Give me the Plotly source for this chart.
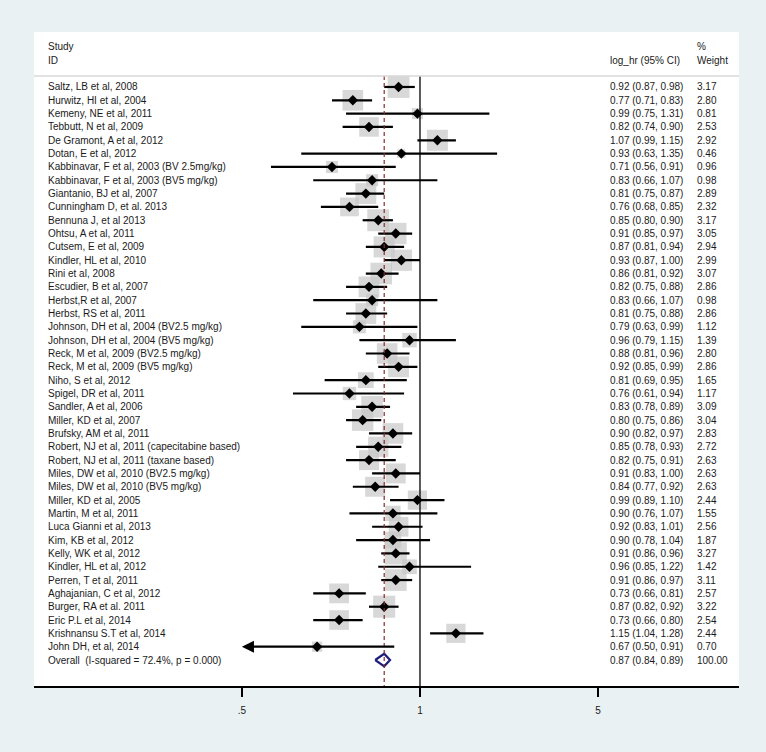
import numpy as np
import plotly.graph_objects as go

studies = [
    "Saltz, LB et al, 2008", "Hurwitz, HI et al, 2004", "Kemeny, NE et al, 2011",
    "Tebbutt, N et al, 2009", "De Gramont, A et al, 2012", "Dotan, E et al, 2012",
    "Kabbinavar, F et al, 2003 (BV 2.5mg/kg)", "Kabbinavar, F et al, 2003 (BV5 mg/kg)",
    "Giantanio, BJ et al, 2007", "Cunningham D, et al. 2013", "Bennuna J, et al 2013",
    "Ohtsu, A et al, 2011", "Cutsem, E et al, 2009", "Kindler, HL et al, 2010",
    "Rini et al, 2008", "Escudier, B et al, 2007", "Herbst,R et al, 2007",
    "Herbst, RS et al, 2011", "Johnson, DH et al, 2004 (BV2.5 mg/kg)",
    "Johnson, DH et al, 2004 (BV5 mg/kg)", "Reck, M et al, 2009 (BV2.5 mg/kg)",
    "Reck, M et al, 2009 (BV5 mg/kg)", "Niho, S et al, 2012", "Spigel, DR et al, 2011",
    "Sandler, A et al, 2006", "Miller, KD et al, 2007", "Brufsky, AM et al, 2011",
    "Robert, NJ et al, 2011 (capecitabine based)", "Robert, NJ et al, 2011 (taxane based)",
    "Miles, DW et al, 2010 (BV2.5 mg/kg)", "Miles, DW et al, 2010 (BV5 mg/kg)",
    "Miller, KD et al, 2005", "Martin, M et al, 2011", "Luca Gianni et al, 2013",
    "Kim, KB et al, 2012", "Kelly, WK et al, 2012", "Kindler, HL et al, 2012",
    "Perren, T et al, 2011", "Aghajanian, C et al, 2012", "Burger, RA et al. 2011",
    "Eric P.L et al, 2014", "Krishnansu S.T et al, 2014", "John DH, et al, 2014",
]
hr = [0.92, 0.77, 0.99, 0.82, 1.07, 0.93, 0.71, 0.83, 0.81, 0.76, 0.85, 0.91, 0.87,
      0.93, 0.86, 0.82, 0.83, 0.81, 0.79, 0.96, 0.88, 0.92, 0.81, 0.76, 0.83, 0.80,
      0.90, 0.85, 0.82, 0.91, 0.84, 0.99, 0.90, 0.92, 0.90, 0.91, 0.96, 0.91, 0.73,
      0.87, 0.73, 1.15, 0.67]
lo = [0.87, 0.71, 0.75, 0.74, 0.99, 0.63, 0.56, 0.66, 0.75, 0.68, 0.80, 0.85, 0.81,
      0.87, 0.81, 0.75, 0.66, 0.75, 0.63, 0.79, 0.81, 0.85, 0.69, 0.61, 0.78, 0.75,
      0.82, 0.78, 0.75, 0.83, 0.77, 0.89, 0.76, 0.83, 0.78, 0.86, 0.85, 0.86, 0.66,
      0.82, 0.66, 1.04, 0.50]
hi = [0.98, 0.83, 1.31, 0.90, 1.15, 1.35, 0.91, 1.07, 0.87, 0.85, 0.90, 0.97, 0.94,
      1.00, 0.92, 0.88, 1.07, 0.88, 0.99, 1.15, 0.96, 0.99, 0.95, 0.94, 0.89, 0.86,
      0.97, 0.93, 0.91, 1.00, 0.92, 1.10, 1.07, 1.01, 1.04, 0.96, 1.22, 0.97, 0.81,
      0.92, 0.80, 1.28, 0.91]
weight = [3.17, 2.80, 0.81, 2.53, 2.92, 0.46, 0.96, 0.98, 2.89, 2.32, 3.17, 3.05, 2.94,
          2.99, 3.07, 2.86, 0.98, 2.86, 1.12, 1.39, 2.80, 2.86, 1.65, 1.17, 3.09, 3.04,
          2.83, 2.72, 2.63, 2.63, 2.63, 2.44, 1.55, 2.56, 1.87, 3.27, 1.42, 3.11, 2.57,
          3.22, 2.54, 2.44, 0.70]
overall_label = "Overall  (I-squared = 72.4%, p = 0.000)"
overall = [0.87, 0.84, 0.89, 100.00]
tick_vals = [0.5, 1, 2]
tick_text = [".5", "1", "5"]
axis_min = 0.5

n = len(studies)
rows = list(range(n))
FONT = "Arial, Liberation Sans, sans-serif"
BG = "#e9f1f2"

fig = go.Figure()

# grey weight boxes
fig.add_trace(go.Scatter(
    x=hr, y=rows, mode="markers",
    marker=dict(symbol="square", size=[12.3 * np.sqrt(w) for w in weight],
                color="#c8c8c8", line=dict(width=0)),
    hoverinfo="skip", showlegend=False))

# CI lines
cx, cy = [], []
for i in range(n):
    if lo[i] <= axis_min:
        continue
    cx += [lo[i], hi[i], None]
    cy += [i, i, None]
fig.add_trace(go.Scatter(x=cx, y=cy, mode="lines",
                         line=dict(color="black", width=2.2),
                         hoverinfo="skip", showlegend=False))

# arrows for CIs reaching the axis minimum
for i in range(n):
    if lo[i] <= axis_min:
        fig.add_annotation(x=np.log10(axis_min), y=i, ax=np.log10(hi[i]), ay=i,
                           xref="x", yref="y", axref="x", ayref="y",
                           showarrow=True, arrowhead=2, arrowsize=1.1,
                           arrowwidth=2.2, arrowcolor="black", text="")

# point estimates
fig.add_trace(go.Scatter(
    x=hr, y=rows, mode="markers",
    marker=dict(symbol="diamond", size=8, color="black"),
    hoverinfo="skip", showlegend=False))

# overall diamond
oy = n
fig.add_trace(go.Scatter(
    x=[overall[1], overall[0], overall[2], overall[0], overall[1]],
    y=[oy, oy - 0.47, oy, oy + 0.47, oy], mode="lines",
    line=dict(color="#1f1f7a", width=2.2), fill="toself", fillcolor="white",
    hoverinfo="skip", showlegend=False))

ytop = -4.125
ybot = 44.95
yhead = -0.83

# reference lines
fig.add_shape(type="line", xref="x", yref="y", x0=1, x1=1, y0=yhead, y1=ybot,
              line=dict(color="black", width=1.3))
fig.add_shape(type="line", xref="x", yref="y", x0=overall[0], x1=overall[0],
              y0=yhead, y1=ybot, line=dict(color="#8b2a2a", width=1.2, dash="4px,3px"))
fig.add_shape(type="line", xref="paper", yref="y", x0=0, x1=1, y0=yhead, y1=yhead,
              line=dict(color="#d8d8d8", width=1.5))

# text columns
XL, XC, XW = 0.017, 0.814, 0.937
tf = dict(family=FONT, size=10, color="#1a1a1a")
def txt(x, y, s):
    fig.add_annotation(x=x, y=y, xref="paper", yref="y", text=s, showarrow=False,
                       xanchor="left", yanchor="middle", font=tf)

txt(XL, -3.0, "Study")
txt(XL, -1.95, "ID")
txt(XC, -1.95, "log_hr (95% CI)")
txt(XW, -3.0, "%")
txt(XW, -1.95, "Weight")
for i in range(n):
    txt(XL, i, studies[i])
    txt(XC, i, f"{hr[i]:.2f} ({lo[i]:.2f}, {hi[i]:.2f})")
    txt(XW, i, f"{weight[i]:.2f}")
txt(XL, oy, overall_label)
txt(XC, oy, f"{overall[0]:.2f} ({overall[1]:.2f}, {overall[2]:.2f})")
txt(XW, oy, f"{overall[3]:.2f}")

fig.update_layout(
    width=766, height=752,
    margin=dict(l=34, r=27, t=32, b=66),
    paper_bgcolor=BG, plot_bgcolor="white",
    showlegend=False,
    xaxis=dict(type="log", range=[np.log10(0.2227), np.log10(3.46)],
               tickvals=tick_vals, ticktext=tick_text,
               showgrid=False, zeroline=False,
               showline=True, linecolor="black", linewidth=1.5,
               ticks="outside", ticklen=9, tickwidth=1.5, tickcolor="black",
               tickfont=dict(family=FONT, size=10, color="#1a1a1a"),
               ticklabelstandoff=5, fixedrange=True),
    yaxis=dict(range=[ybot, ytop], visible=False, showgrid=False, zeroline=False,
               fixedrange=True),
)

fig.write_html("out.html", config={"displayModeBar": False},
               post_script="document.body.style.margin='0';"
                           "document.body.style.background='%s';" % BG)
